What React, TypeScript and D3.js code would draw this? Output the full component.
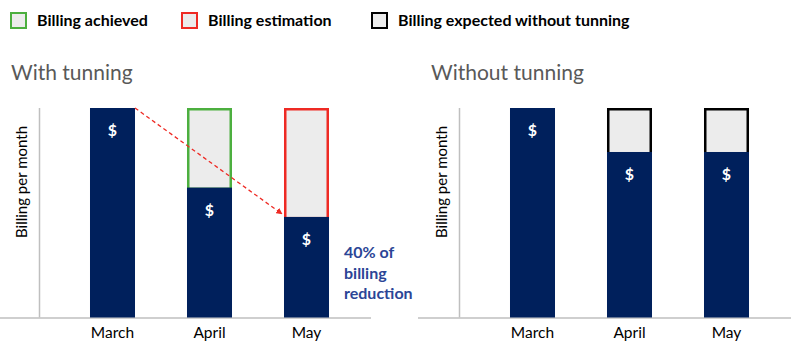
import React from "react";
import * as d3 from "d3";

const months = ["March", "April", "May"];
// values as % of March billing (March = 100)
const withTuningActual = [100, 62, 48];
const withTuningExpected = [100, 100, 100];
const withoutTuningActual = [100, 79, 79];
const withoutTuningExpected = [100, 100, 100];
const withOutlineColors = [null, "#4caf3f", "#ee2a24"];
const withoutOutlineColors = [null, "#000000", "#000000"];

const legendItems = [
  { label: "Billing achieved", color: "#4caf3f" },
  { label: "Billing estimation", color: "#ee2a24" },
  { label: "Billing expected without tunning", color: "#000000" },
];
const legendX = [10, 181, 371];
const annotationLines = ["40% of", "billing", "reduction"];

const W = 795;
const H = 356;
const NAVY = "#00205c";
const LIGHT = "#ececec";
const FONT = "Lato, 'Open Sans', sans-serif";

const y = d3.scaleLinear().domain([0, 100]).range([317.5, 108]);

function Panel({ x0, title, actual, expected, outlines, annotate }: any) {
  const x = d3
    .scaleBand<string>()
    .domain(months)
    .range([x0 + 38, x0 + 381])
    .paddingInner(0.536)
    .paddingOuter(0.536);
  const bw = x.bandwidth();
  const axisX = x0 + 39.5;
  const arrowStart: [number, number] = [x("March")! + bw, y(withTuningExpected[0])];
  const arrowEnd: [number, number] = [x("May")! - 2, y(actual[2]) - 3];
  return (
    <g>
      <text x={x0 + 11} y={80} fontFamily={FONT} fontSize={21} fill="#595959">
        {title}
      </text>
      <line x1={axisX} x2={axisX} y1={108} y2={317.5} stroke="#bfbfbf" strokeWidth={1.5} />
      <line x1={x0 === 0 ? 0 : x0 - 2} x2={x0 + 371} y1={318} y2={318} stroke="#bfbfbf" strokeWidth={1.5} />
      <text
        transform={`translate(${x0 + 27},${182}) rotate(-90)`}
        textAnchor="middle"
        fontFamily={FONT}
        fontSize={15}
        fill="#000"
      >
        Billing per month
      </text>
      {months.map((m, i) => {
        const bx = x(m)!;
        const oc = outlines[i];
        return (
          <g key={m}>
            {oc && (
              <rect
                x={bx + 1.25}
                y={y(expected[i]) + 1.25}
                width={bw - 2.5}
                height={y(actual[i]) - y(expected[i])}
                fill={LIGHT}
                stroke={oc}
                strokeWidth={2.5}
              />
            )}
            <rect x={bx} y={y(actual[i])} width={bw} height={y(0) - y(actual[i])} fill={NAVY} />
            <text
              x={bx + bw / 2}
              y={y(actual[i]) + 28}
              textAnchor="middle"
              fontFamily={FONT}
              fontWeight="bold"
              fontSize={16}
              fill="#fff"
            >
              $
            </text>
            <text
              x={bx + bw / 2}
              y={338}
              textAnchor="middle"
              fontFamily={FONT}
              fontSize={15.5}
              fill="#000"
            >
              {m}
            </text>
          </g>
        );
      })}
      {annotate && (
        <g>
          <defs>
            <marker id="arrowhead" viewBox="0 0 10 10" refX="9" refY="5" markerWidth="5" markerHeight="5" orient="auto">
              <path d="M0,0 L10,5 L0,10 z" fill="#ee2a24" />
            </marker>
          </defs>
          <line
            x1={arrowStart[0]}
            y1={arrowStart[1]}
            x2={arrowEnd[0]}
            y2={arrowEnd[1]}
            stroke="#ee2a24"
            strokeWidth={1.3}
            strokeDasharray="4,3"
            markerEnd="url(#arrowhead)"
          />
          {annotationLines.map((t, i) => (
            <text
              key={t}
              x={x0 + 344}
              y={258 + i * 20.5}
              fontFamily={FONT}
              fontWeight="bold"
              fontSize={16}
              fill="#2b4596"
            >
              {t}
            </text>
          ))}
        </g>
      )}
    </g>
  );
}

export default function App() {
  return (
    <svg
      width={W}
      height={H}
      style={{ position: "absolute", left: 0, top: 0, background: "#fff" }}
    >
      {legendItems.map((d, i) => (
        <g key={d.label}>
          <rect x={legendX[i] + 1} y={13} width={15} height={15} fill={LIGHT} stroke={d.color} strokeWidth={2} />
          <text x={legendX[i] + 27} y={25.5} fontFamily={FONT} fontWeight="bold" fontSize={16} fill="#000">
            {d.label}
          </text>
        </g>
      ))}
      <Panel
        x0={0}
        title="With tunning"
        actual={withTuningActual}
        expected={withTuningExpected}
        outlines={withOutlineColors}
        annotate
      />
      <Panel
        x0={420}
        title="Without tunning"
        actual={withoutTuningActual}
        expected={withoutTuningExpected}
        outlines={withoutOutlineColors}
        annotate={false}
      />
    </svg>
  );
}
